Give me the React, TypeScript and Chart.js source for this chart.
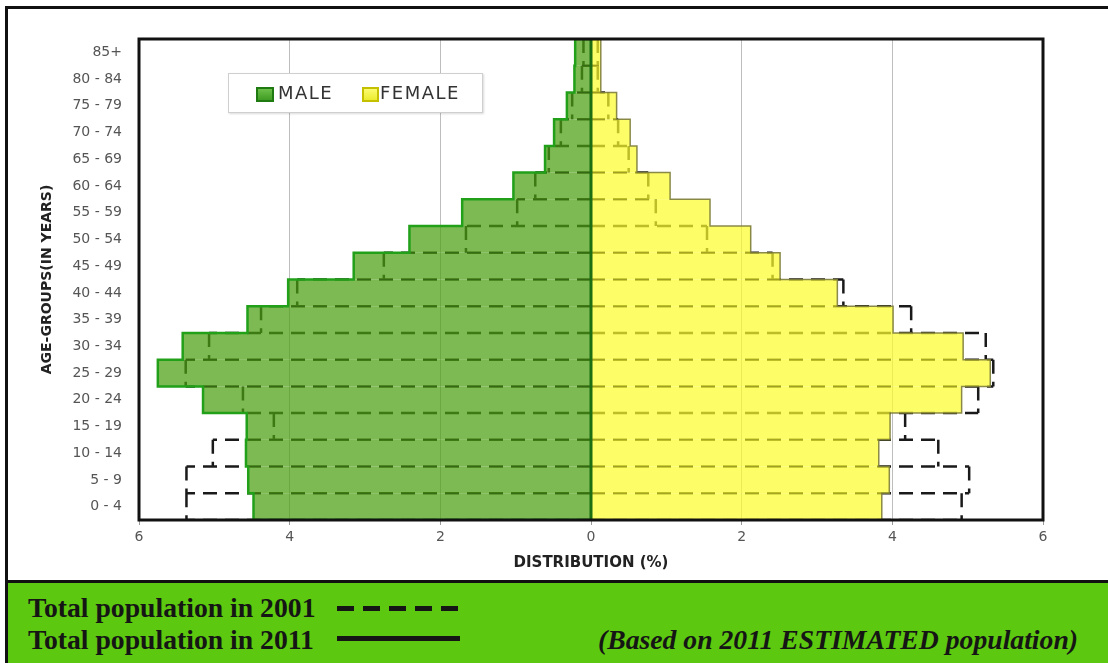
import React, { useEffect, useRef } from 'react';
import { Chart, registerables } from 'chart.js';

Chart.register(...registerables);

// Age groups, listed from top (oldest) to bottom (youngest)
const ageGroups = [
  '85+', '80 - 84', '75 - 79', '70 - 74', '65 - 69', '60 - 64', '55 - 59', '50 - 54', '45 - 49',
  '40 - 44', '35 - 39', '30 - 34', '25 - 29', '20 - 24', '15 - 19', '10 - 14', '5 - 9', '0 - 4',
];

// Distribution (%) 2011 (solid, filled)
const male2011 = [0.21, 0.22, 0.32, 0.49, 0.61, 1.03, 1.71, 2.41, 3.15, 4.02, 4.56, 5.42, 5.75, 5.15, 4.57, 4.58, 4.55, 4.48];
const female2011 = [0.13, 0.13, 0.34, 0.52, 0.61, 1.05, 1.58, 2.12, 2.51, 3.27, 4.01, 4.94, 5.30, 4.92, 3.97, 3.82, 3.96, 3.86];

// Distribution (%) 2001 (dashed outline)
const male2001 = [0.10, 0.12, 0.25, 0.40, 0.56, 0.74, 0.98, 1.66, 2.75, 3.90, 4.38, 5.07, 5.38, 4.62, 4.21, 5.02, 5.37, 5.37];
const female2001 = [0.09, 0.09, 0.23, 0.36, 0.50, 0.76, 0.86, 1.54, 2.41, 3.35, 4.25, 5.24, 5.34, 5.14, 4.17, 4.61, 5.02, 4.92];

const xTickValues = [-6, -4, -2, 0, 2, 4, 6];
const legendLabels = ['MALE', 'FEMALE'];
const xTitle = 'DISTRIBUTION (%)';
const yTitle = 'AGE-GROUPS(IN YEARS)';
const footLine2001 = 'Total population in 2001';
const footLine2011 = 'Total population in 2011';
const footNote = '(Based on 2011 ESTIMATED population)';

type Pt = { x: number | null; y: number | null };

// Stepped outline of the 2011 pyramid half
function outline2011(values: number[], sign: number): Pt[] {
  const pts: Pt[] = [{ x: 0, y: -0.5 }];
  values.forEach((v, i) => {
    pts.push({ x: sign * v, y: i - 0.5 });
    pts.push({ x: sign * v, y: i + 0.5 });
  });
  pts.push({ x: 0, y: values.length - 0.5 });
  return pts;
}

// Per-row dashed rectangles of the 2001 pyramid half (each edge drawn once)
function outline2001(values: number[], sign: number): Pt[] {
  const pts: Pt[] = [];
  for (let k = 0; k <= values.length; k++) {
    const a = k > 0 ? values[k - 1] : 0;
    const b = k < values.length ? values[k] : 0;
    const m = Math.max(a, b);
    pts.push({ x: 0, y: k - 0.5 }, { x: sign * m, y: k - 0.5 }, { x: null, y: null });
    if (k < values.length) {
      pts.push({ x: sign * values[k], y: k - 0.5 }, { x: sign * values[k], y: k + 0.5 }, { x: null, y: null });
    }
  }
  return pts;
}

const FONT = "'DejaVu Sans', 'Noto Sans', sans-serif";

export default function App() {
  const ref = useRef<HTMLCanvasElement>(null);

  useEffect(() => {
    const framePlugin = {
      id: 'plotFrame',
      afterDraw(chart: any) {
        const { ctx, chartArea } = chart;
        ctx.save();
        ctx.strokeStyle = '#111';
        ctx.lineWidth = 3;
        ctx.strokeRect(chartArea.left, chartArea.top, chartArea.right - chartArea.left, chartArea.bottom - chartArea.top);
        ctx.restore();
      },
    };

    const lineBase = {
      type: 'line' as const,
      indexAxis: 'x' as const,
      xAxisID: 'x',
      yAxisID: 'yl',
      pointRadius: 0,
      fill: false,
      tension: 0,
      spanGaps: false,
    };

    const chart = new Chart(ref.current as HTMLCanvasElement, {
      type: 'bar',
      data: {
        labels: ageGroups,
        datasets: [
          {
            ...lineBase,
            label: 'Center',
            data: [{ x: 0, y: -0.5 }, { x: 0, y: ageGroups.length - 0.5 }],
            borderColor: '#1d6e12',
            borderWidth: 3,
            order: -1,
          } as any,
          {
            ...lineBase,
            label: 'Male 2011 outline',
            data: outline2011(male2011, -1),
            borderColor: '#22a01a',
            borderWidth: 2.5,
            order: 0,
          } as any,
          {
            ...lineBase,
            label: 'Female 2011 outline',
            data: outline2011(female2011, 1),
            borderColor: 'rgba(125,125,60,0.9)',
            borderWidth: 1.5,
            order: 0,
          } as any,
          {
            type: 'bar',
            label: legendLabels[0],
            data: male2011.map((v) => -v),
            backgroundColor: 'rgba(76,159,18,0.72)',
            borderWidth: 0,
            grouped: false,
            barPercentage: 1,
            categoryPercentage: 1,
            inflateAmount: 0,
            xAxisID: 'x',
            yAxisID: 'y',
            order: 1,
          } as any,
          {
            type: 'bar',
            label: legendLabels[1],
            data: female2011,
            backgroundColor: 'rgba(252,252,45,0.72)',
            borderWidth: 0,
            grouped: false,
            barPercentage: 1,
            categoryPercentage: 1,
            inflateAmount: 0,
            xAxisID: 'x',
            yAxisID: 'y',
            order: 1,
          } as any,
          {
            ...lineBase,
            label: 'Male 2001',
            data: outline2001(male2001, -1),
            borderColor: '#1a1a1a',
            borderWidth: 2.5,
            borderDash: [14, 8],
            order: 2,
          } as any,
          {
            ...lineBase,
            label: 'Female 2001',
            data: outline2001(female2001, 1),
            borderColor: '#1a1a1a',
            borderWidth: 2.5,
            borderDash: [14, 8],
            order: 2,
          } as any,
        ],
      },
      options: {
        indexAxis: 'y',
        responsive: false,
        animation: false,
        devicePixelRatio: 1,
        events: [],
        layout: { padding: { left: 0, top: 39, right: 65, bottom: 0 } },
        plugins: {
          legend: { display: false },
          tooltip: { enabled: false },
        },
        scales: {
          x: {
            type: 'linear',
            min: -6,
            max: 6,
            afterBuildTicks: (s: any) => {
              s.ticks = xTickValues.map((v) => ({ value: v }));
            },
            ticks: {
              callback: (v: any) => String(Math.abs(Number(v))),
              color: '#555',
              font: { family: FONT, size: 14 },
              padding: 3.6,
            },
            grid: { color: '#bdbdbd', lineWidth: 1, drawTicks: true, tickLength: 5, tickColor: '#999' },
            border: { display: false },
            title: {
              display: true,
              text: xTitle,
              color: '#222',
              font: { family: FONT, size: 15, weight: 'bold' },
              padding: { top: 0, bottom: 10 },
            },
            afterFit: (s: any) => {
              s.height = 62;
            },
          },
          y: {
            type: 'category',
            offset: true,
            grid: { display: false, drawTicks: false },
            border: { display: false },
            ticks: {
              color: '#555',
              font: { family: FONT, size: 14 },
              padding: 17,
              autoSkip: false,
            },
            title: {
              display: true,
              text: yTitle,
              color: '#222',
              font: { family: FONT, size: 14, weight: 'bold' },
              padding: { top: 38.6, bottom: 0 },
            },
            afterFit: (s: any) => {
              s.width = 139;
            },
          },
          yl: {
            type: 'linear',
            display: false,
            offset: false,
            grace: 0,
            min: -0.5,
            max: ageGroups.length - 0.5,
            reverse: true,
            grid: { offset: false },
          },
        },
      } as any,
      plugins: [framePlugin],
    });
    return () => chart.destroy();
  }, []);

  const serif = "'Liberation Serif', 'Times New Roman', serif";

  return (
    <div style={{ position: 'fixed', left: 0, top: 0, width: 1108, height: 663, background: '#fff', overflow: 'hidden' }}>
      {/* outer frame */}
      <div
        style={{
          position: 'absolute', left: 5, top: 6, width: 1130, height: 577, boxSizing: 'border-box',
          border: '3px solid #111', background: '#fff',
        }}
      />
      {/* bottom green panel */}
      <div
        style={{
          position: 'absolute', left: 5, top: 583, width: 1110, height: 80, boxSizing: 'border-box',
          borderLeft: '3px solid #111', background: '#5cc80f',
        }}
      />
      <div style={{ position: 'absolute', left: 28, top: 593, font: `bold 27.7px ${serif}`, lineHeight: '30px', color: '#151515', whiteSpace: 'nowrap' }}>
        {footLine2001}
      </div>
      <div style={{ position: 'absolute', left: 28, top: 625, font: `bold 27.7px ${serif}`, lineHeight: '30px', color: '#151515', whiteSpace: 'nowrap' }}>
        {footLine2011}
      </div>
      <div
        style={{
          position: 'absolute', left: 337, top: 606, width: 123, height: 4.5,
          background: 'repeating-linear-gradient(to right, #151515 0px, #151515 17px, transparent 17px, transparent 26px)',
        }}
      />
      <div style={{ position: 'absolute', left: 337, top: 636, width: 123, height: 4.5, background: '#151515' }} />
      <div style={{ position: 'absolute', left: 598, top: 625, font: `italic bold 27.7px ${serif}`, lineHeight: '30px', color: '#151515', whiteSpace: 'nowrap' }}>
        {footNote}
      </div>

      <canvas ref={ref} width={1108} height={582} style={{ position: 'absolute', left: 0, top: 0, width: 1108, height: 582 }} />

      {/* legend */}
      <div
        style={{
          position: 'absolute', left: 228, top: 73, width: 255, height: 40, boxSizing: 'border-box',
          background: '#fff', border: '1px solid #cfcfcf', boxShadow: '1px 1px 2px rgba(0,0,0,0.15)',
          fontFamily: FONT, fontSize: 18, color: '#333', letterSpacing: 1.5,
        }}
      >
        <div style={{ position: 'absolute', left: 27, top: 13, width: 18, height: 15, boxSizing: 'border-box', border: '2px solid #1f7a12', background: 'linear-gradient(#6cc04a, #3f9c22)' }} />
        <div style={{ position: 'absolute', left: 49, top: 8, lineHeight: '22px', whiteSpace: 'nowrap' }}>{legendLabels[0]}</div>
        <div style={{ position: 'absolute', left: 133, top: 13, width: 17, height: 15, boxSizing: 'border-box', border: '2px solid #c4c000', background: 'linear-gradient(#fbfb70, #ecec30)' }} />
        <div style={{ position: 'absolute', left: 151, top: 8, lineHeight: '22px', whiteSpace: 'nowrap' }}>{legendLabels[1]}</div>
      </div>
    </div>
  );
}
